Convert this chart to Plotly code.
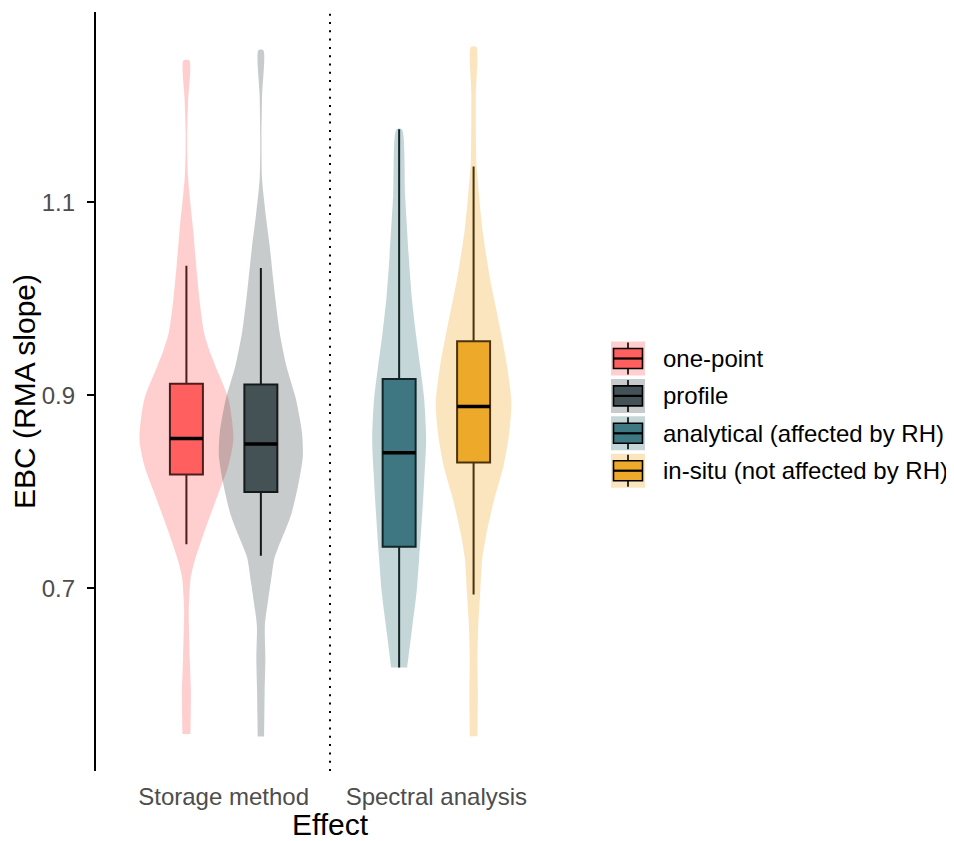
import plotly.graph_objects as go

# ---------------- data ----------------
groups = ["one-point", "profile", "analytical (affected by RH)", "in-situ (not affected by RH)"]
effects = ["Storage method", "Spectral analysis"]
group_effect = [1, 1, 2, 2]          # category index on x axis
group_side = [-1, 1, -1, 1]          # dodge side
box_colors = ["#FF5F5F", "#445257", "#3E7882", "#EDAA2A"]

lower_whisker = [0.7458, 0.7338, 0.6183, 0.6938]
q1 = [0.8181, 0.8000, 0.7431, 0.8306]
median = [0.8553, 0.8496, 0.8406, 0.8884]
q3 = [0.9119, 0.9112, 0.9170, 0.9560]
upper_whisker = [1.0342, 1.0318, 1.1755, 1.1369]

# violin outlines: EBC level and relative density (half width)
onepoint_y = [0.5494, 0.5935, 0.6277, 0.6793, 0.6897, 0.7103, 0.7238, 0.7310, 0.7589, 0.7930,
              0.8271, 0.8550, 0.8964, 0.9305, 0.9480, 0.9656, 0.9997, 1.0380, 1.0721, 1.1269,
              1.1682, 1.2065, 1.2468]
onepoint_d = [4.0, 4.5, 3.3, 2.3, 2.8, 4.2, 7.0, 9.0, 18, 30,
              42, 47, 42, 29, 22.5, 17.5, 13.0, 9.5, 6.7, 1.6,
              0.7, 1.8, 3.0]
profile_y = [0.5467, 0.5935, 0.6277, 0.6618, 0.6897, 0.7072, 0.7310, 0.7413, 0.7755, 0.8106,
             0.8375, 0.8623, 0.8964, 0.9305, 0.9656, 0.9997, 1.0204, 1.0548, 1.0858, 1.1238,
             1.1651, 1.2099, 1.2574]
profile_d = [3.2, 3.8, 4.5, 4.0, 7.5, 10, 13.5, 17, 30, 38,
             42, 41, 35, 25.5, 18.7, 14.5, 12.3, 8.8, 5, 1.2,
             0.6, 1.2, 2.5]
analytical_y = [0.6183, 0.6618, 0.6969, 0.7310, 0.7755, 0.8106, 0.8550, 0.8964, 0.9305, 0.9656,
                0.9997, 1.0380, 1.1065, 1.1755]
analytical_d = [8, 13.3, 17.5, 20, 23, 25, 27, 25, 21, 16.5,
                12.8, 10.0, 6, 2.7]
insitu_y = [0.5470, 0.5935, 0.6277, 0.6618, 0.6969, 0.7310, 0.7589, 0.7930, 0.8271, 0.8623,
            0.8933, 0.9305, 0.9718, 0.9997, 1.0204, 1.0721, 1.1065, 1.1413, 1.2099, 1.2609]
insitu_d = [3.8, 4.2, 3.8, 4.7, 6.7, 8.7, 13.3, 20.8, 30, 35.8,
            37.8, 33.5, 26, 20.5, 16.5, 8.8, 5.5, 2.8, 2.2, 2.7]

violin_y = [onepoint_y, profile_y, analytical_y, insitu_y]
violin_d = [onepoint_d, profile_d, analytical_d, insitu_d]

y_ticks = [0.7, 0.9, 1.1]

# ---------------- layout constants ----------------
OFF = 8                      # page body margin in the browser
W, H = 954 - OFF, 841 - OFF
ML, MR, MT, MB = 96 - OFF, 390, 12 - OFF, 70
XR = [0.4, 2.6]
YR = [0.511, 1.297]
DODGE = 0.175
BOX_W = 0.155
PX_PER_X = (W - ML - MR) / (XR[1] - XR[0])
DENS_SCALE = 1.0 / PX_PER_X
FONT = "Liberation Sans, Arial, sans-serif"


def rgba(hexc, a):
    h = hexc.lstrip("#")
    return "rgba(%d,%d,%d,%.2f)" % (int(h[0:2], 16), int(h[2:4], 16), int(h[4:6], 16), a)


def px2paper(xp, yp):
    # xp, yp in page pixels
    pw = W - ML - MR
    ph = H - MT - MB
    return (xp - OFF - ML) / pw, (H - MB - (yp - OFF)) / ph


fig = go.Figure()

# violins
for i, g in enumerate(groups):
    c = group_effect[i] + group_side[i] * DODGE
    ys = violin_y[i]
    ds = [d * DENS_SCALE for d in violin_d[i]]
    xs = [c + d for d in ds] + [c - d for d in ds[::-1]]
    yy = ys + ys[::-1]
    fig.add_trace(go.Scatter(
        x=xs, y=yy, fill="toself", mode="lines",
        line=dict(width=0, shape="spline", smoothing=0.7),
        fillcolor=rgba(box_colors[i], 0.30),
        hoverinfo="skip", showlegend=False))

# boxes
for i, g in enumerate(groups):
    c = group_effect[i] + group_side[i] * DODGE
    fig.add_trace(go.Box(
        x=[c], q1=[q1[i]], median=[median[i]], q3=[q3[i]],
        lowerfence=[lower_whisker[i]], upperfence=[upper_whisker[i]],
        width=BOX_W, fillcolor=box_colors[i], boxpoints=False, whiskerwidth=0,
        line=dict(color="black", width=2), name=g, showlegend=False))
    fig.add_trace(go.Scatter(
        x=[c - BOX_W / 2, c + BOX_W / 2], y=[median[i], median[i]], mode="lines",
        line=dict(color="black", width=3.4), hoverinfo="skip", showlegend=False))

shapes = []
# dotted separator between effects
shapes.append(dict(type="line", xref="x", yref="paper", x0=1.5, x1=1.5, y0=0, y1=1,
                   line=dict(color="black", width=2, dash="2px,6.3px")))

annotations = []
# custom legend (ggplot style keys)
KEY_X0, KEY_X1 = 611, 645
KEY_TOP0, KEY_PITCH, KEY_SIZE = 341.5, 37.4, 34
for i, g in enumerate(groups):
    top = KEY_TOP0 + i * KEY_PITCH
    cy = top + KEY_SIZE / 2
    cx = (KEY_X0 + KEY_X1) / 2
    x0, y0 = px2paper(KEY_X0, top + KEY_SIZE)
    x1, y1 = px2paper(KEY_X1, top)
    shapes.append(dict(type="rect", xref="paper", yref="paper", x0=x0, x1=x1, y0=y0, y1=y1,
                       fillcolor=rgba(box_colors[i], 0.30), line=dict(width=0)))
    wx, wy0 = px2paper(cx, cy + 16)
    _, wy1 = px2paper(cx, cy - 16)
    shapes.append(dict(type="line", xref="paper", yref="paper", x0=wx, x1=wx, y0=wy0, y1=wy1,
                       line=dict(color="black", width=1.6)))
    bx0, by0 = px2paper(KEY_X0 + 2.5, cy + 10)
    bx1, by1 = px2paper(KEY_X1 - 2.5, cy - 10)
    shapes.append(dict(type="rect", xref="paper", yref="paper", x0=bx0, x1=bx1, y0=by0, y1=by1,
                       fillcolor=box_colors[i], line=dict(color="black", width=1.6)))
    _, my = px2paper(cx, cy)
    shapes.append(dict(type="line", xref="paper", yref="paper", x0=bx0, x1=bx1, y0=my, y1=my,
                       line=dict(color="black", width=2.2)))
    tx, ty = px2paper(661, cy)
    annotations.append(dict(x=tx, y=ty, xref="paper", yref="paper", text=g, showarrow=False,
                            xanchor="left", yanchor="middle",
                            font=dict(family=FONT, size=24, color="black")))

fig.update_layout(
    width=W, height=H,
    margin=dict(l=ML, r=MR, t=MT, b=MB, autoexpand=False),
    paper_bgcolor="white", plot_bgcolor="white",
    showlegend=False, boxmode="overlay",
    shapes=shapes, annotations=annotations,
    xaxis=dict(range=XR, type="linear", tickvals=[1, 2], ticktext=effects,
               showline=False, showgrid=False, zeroline=False, ticks="",
               ticklabelstandoff=9,
               tickfont=dict(family=FONT, size=24, color="#4D4D4D"),
               title=dict(text="Effect", font=dict(family=FONT, size=30, color="black"),
                          standoff=9)),
    yaxis=dict(range=YR, tickvals=y_ticks, ticktext=["%.1f" % v for v in y_ticks],
               showline=True, linecolor="black", linewidth=2.3,
               ticks="outside", ticklen=7, tickwidth=2.3, tickcolor="black",
               showgrid=False, zeroline=False, ticklabelstandoff=7,
               tickfont=dict(family=FONT, size=24, color="#4D4D4D"),
               title=dict(text="EBC (RMA slope)", font=dict(family=FONT, size=30, color="black"),
                          standoff=11)),
)

fig.write_html("out.html")
